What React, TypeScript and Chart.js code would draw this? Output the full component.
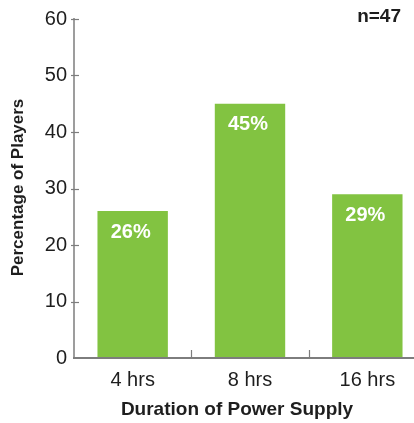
import React, { useEffect, useRef } from "react";
import { Chart, registerables } from "chart.js";

Chart.register(...registerables);

const categories = ["4 hrs", "8 hrs", "16 hrs"];
const percentages = [26, 45, 29];
const yTicks = [0, 10, 20, 30, 40, 50, 60];
const sampleLabel = "n=47";
const xTitle = "Duration of Power Supply";
const yTitle = "Percentage of Players";

const FONT = "'Liberation Sans', Arial, sans-serif";
const GREEN = "#82c341";
const AXIS = "#7d7d7d";
const TEXT = "#1e1e1e";

const decorations = {
  id: "decorations",
  afterDatasetsDraw(chart: any) {
    const { ctx, chartArea, scales } = chart;
    const x = scales.x;
    const y = scales.y;
    ctx.save();

    // axis lines
    ctx.strokeStyle = AXIS;
    ctx.lineWidth = 1.5;
    ctx.beginPath();
    ctx.moveTo(chartArea.left, y.getPixelForValue(60) - 1);
    ctx.lineTo(chartArea.left, chartArea.bottom);
    ctx.stroke();
    ctx.lineWidth = 2;
    ctx.beginPath();
    ctx.moveTo(chartArea.left - 1, chartArea.bottom);
    ctx.lineTo(chartArea.right + 20, chartArea.bottom);
    ctx.stroke();

    // y tick marks crossing the axis
    ctx.lineWidth = 1.2;
    yTicks.forEach((v) => {
      if (v === 0) return;
      const py = Math.round(y.getPixelForValue(v)) + 0.5;
      ctx.beginPath();
      ctx.moveTo(chartArea.left - 3, py);
      ctx.lineTo(chartArea.left + 5, py);
      ctx.stroke();
    });

    // x tick marks between categories
    for (let i = 1; i < categories.length; i++) {
      const px =
        Math.round((x.getPixelForValue(i - 1) + x.getPixelForValue(i)) / 2) + 0.5;
      ctx.beginPath();
      ctx.moveTo(px, chartArea.bottom);
      ctx.lineTo(px, chartArea.bottom - 8);
      ctx.stroke();
    }

    // value labels inside the bars
    const meta = chart.getDatasetMeta(0);
    ctx.fillStyle = "#ffffff";
    ctx.font = `bold 20px ${FONT}`;
    ctx.textAlign = "center";
    ctx.textBaseline = "middle";
    meta.data.forEach((bar: any, i: number) => {
      ctx.fillText(`${percentages[i]}%`, bar.x - 2, bar.y + 21);
    });

    // axis titles
    ctx.fillStyle = TEXT;
    ctx.font = `bold 19px ${FONT}`;
    ctx.fillText(xTitle, chartArea.left + 163, chartArea.bottom + 52);

    ctx.save();
    ctx.translate(18, (chartArea.top + chartArea.bottom) / 2 - 1);
    ctx.rotate(-Math.PI / 2);
    ctx.font = `bold 17px ${FONT}`;
    ctx.fillText(yTitle, 0, 0);
    ctx.restore();

    // sample size
    ctx.font = `bold 19px ${FONT}`;
    ctx.textAlign = "right";
    ctx.fillText(sampleLabel, chartArea.left + 327, chartArea.top - 2);

    ctx.restore();
  },
};

export default function App() {
  const canvasRef = useRef<HTMLCanvasElement | null>(null);

  useEffect(() => {
    document.body.style.margin = "0";
    const canvas = canvasRef.current;
    if (!canvas) return;
    const chart = new Chart(canvas, {
      type: "bar",
      data: {
        labels: categories,
        datasets: [
          {
            data: percentages,
            backgroundColor: GREEN,
            borderWidth: 0,
            barPercentage: 0.6,
            categoryPercentage: 1,
          },
        ],
      },
      options: {
        responsive: false,
        animation: false,
        layout: { padding: { top: 18, right: 4, left: 0, bottom: 0 } },
        plugins: {
          legend: { display: false },
          tooltip: { enabled: false },
        },
        scales: {
          x: {
            grid: { display: false, drawTicks: false },
            border: { display: false },
            ticks: {
              color: TEXT,
              font: { family: FONT, size: 20 },
              padding: 10,
            },
            afterFit(scale: any) {
              scale.height = 65;
            },
          },
          y: {
            min: 0,
            max: 60,
            grid: { display: false, drawTicks: false },
            border: { display: false },
            ticks: {
              stepSize: 10,
              color: TEXT,
              font: { family: FONT, size: 20 },
              padding: 7,
            },
            afterFit(scale: any) {
              scale.width = 74;
            },
          },
        },
      },
      plugins: [decorations],
    });
    return () => chart.destroy();
  }, []);

  return (
    <div style={{ width: 414, height: 423, overflow: "hidden", position: "relative" }}>
      <div style={{ width: 430, height: 423 }}>
        <canvas ref={canvasRef} width={430} height={423} style={{ display: "block" }} />
      </div>
    </div>
  );
}
